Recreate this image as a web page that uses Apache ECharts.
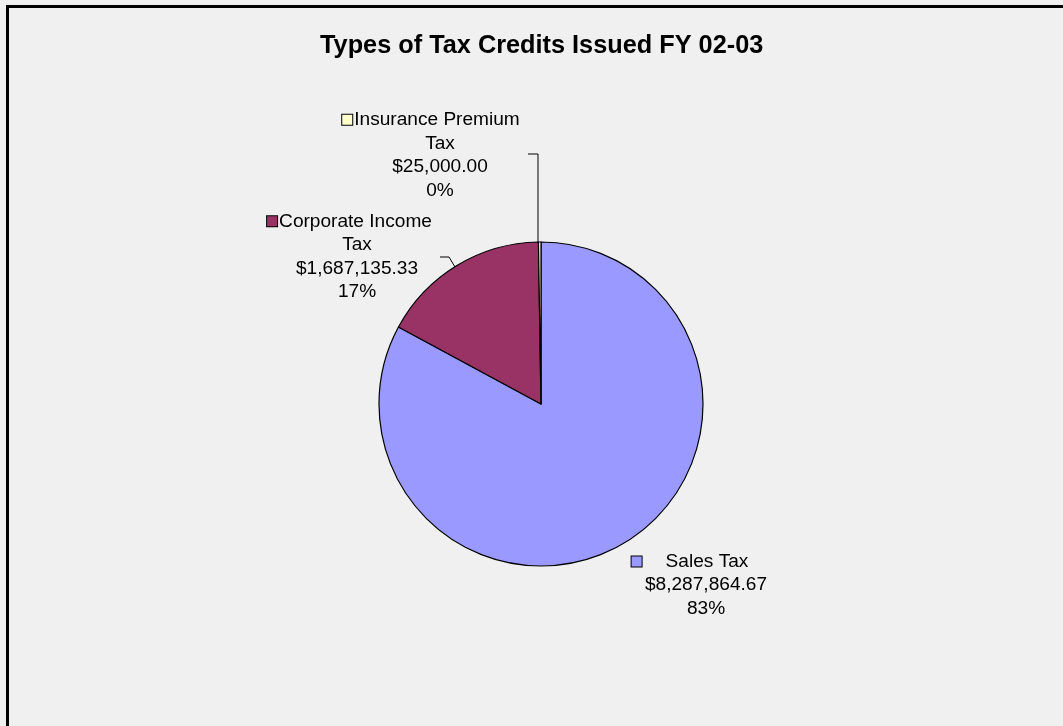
<!DOCTYPE html>
<html>
<head>
<meta charset="utf-8">
<script src="https://cdn.jsdelivr.net/npm/echarts@6/dist/echarts.min.js"></script>
<style>
  html, body { margin: 0; padding: 0; }
  #main { width: 1063px; height: 726px; }
</style>
</head>
<body>
<div id="main"></div>
<script>
// data
var categories = ['Sales Tax', 'Corporate Income\nTax', 'Insurance Premium\nTax'];
var amounts = [8287864.67, 1687135.33, 25000.00];
var colors = ['#9999ff', '#993366', '#ffffcc'];

// label placement (layout only)
var labelPos = [[706, 585], [357, 256.5], [440, 155]];
var linePts = [null, [[440, 257], [449, 257], [455, 267]], [[528, 154], [538, 154], [538, 243]]];
var gapW = [24, 2, 2];
var padW = [32, 15, 18];

var myChart = echarts.init(document.getElementById('main'));

function money(v)
{
    return '$' + v.toLocaleString('en-US', { minimumFractionDigits: 2, maximumFractionDigits: 2 });
}

var rich = {};
for (var i = 0; i < colors.length; i++)
{
    rich['b' + i] = { width: 10, height: 10, backgroundColor: colors[i], borderColor: '#000', borderWidth: 1 };
    rich['g' + i] = { width: gapW[i], height: 1 };
    rich['p' + i] = { width: padW[i], height: 1 };
}

var data = [];
for (var i = 0; i < categories.length; i++)
{
    data.push({
        name: categories[i],
        value: amounts[i],
        itemStyle: { color: colors[i] },
        labelLine: { show: linePts[i] != null }
    });
}

var option = {
    animation: false,
    backgroundColor: '#f0f0f0',
    title: {
        text: 'Types of Tax Credits Issued FY 02-03',
        left: 315,
        top: 29,
        textStyle: {
            fontFamily: 'Liberation Sans',
            fontWeight: 'bold',
            fontSize: 25.3,
            color: '#000'
        }
    },
    graphic: [{
        type: 'rect',
        shape: { x: 7.5, y: 6.5, width: 1200, height: 900 },
        style: { fill: null, stroke: '#000', lineWidth: 3 },
        silent: true
    }],
    series: [{
        type: 'pie',
        center: [541, 404],
        radius: 162,
        startAngle: 90,
        clockwise: true,
        avoidLabelOverlap: false,
        itemStyle: { borderColor: '#000', borderWidth: 1.2 },
        emphasis: { disabled: true },
        label: {
            show: true,
            position: 'outside',
            fontFamily: 'Liberation Sans',
            fontSize: 19.1,
            lineHeight: 23.5,
            color: '#000',
            align: 'center',
            formatter: function (params) {
                var k = params.dataIndex;
                var lines = params.name.split('\n');
                var first = '{b' + k + '|}{g' + k + '|}' + lines[0] + '{p' + k + '|}';
                var rest = lines.slice(1);
                rest.push(money(params.value));
                rest.push(Math.round(params.percent) + '%');
                return [first].concat(rest).join('\n');
            },
            rich: rich
        },
        labelLine: {
            show: true,
            lineStyle: { color: '#000', width: 1 }
        },
        labelLayout: function (params) {
            var k = params.dataIndex;
            var out = {
                x: labelPos[k][0],
                y: labelPos[k][1],
                align: 'center',
                verticalAlign: 'middle'
            };
            if (linePts[k]) out.labelLinePoints = linePts[k];
            return out;
        },
        data: data
    }]
};

myChart.setOption(option);
</script>
</body>
</html>
